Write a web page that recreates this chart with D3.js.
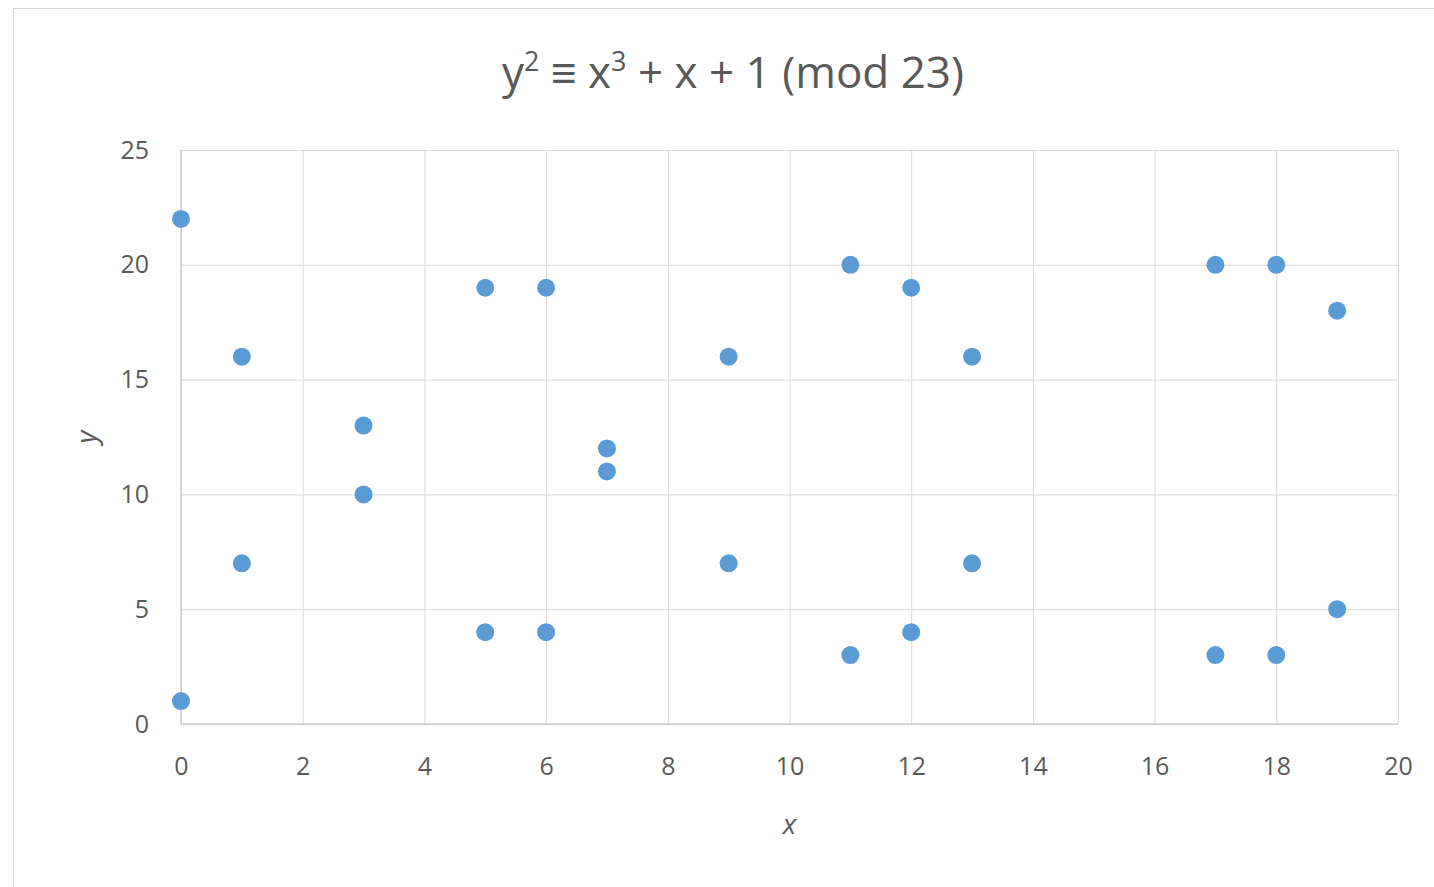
<!DOCTYPE html>
<html>
<head>
<meta charset="utf-8">
<script src="https://cdn.jsdelivr.net/npm/d3@7"></script>
<style>
  body { margin: 0; background: #fff; }
  text { font-family: "Open Sans", "Noto Sans", sans-serif; fill: #595959; }
</style>
</head>
<body>
<div id="chart"></div>
<script>
// points on the curve y^2 = x^3 + x + 1 mod 23
const xValues = [0, 0, 1, 1, 3, 3, 5, 5, 6, 6, 7, 7, 9, 9, 11, 11, 12, 12, 13, 13, 17, 17, 18, 18, 19, 19];
const yValues = [1, 22, 7, 16, 10, 13, 4, 19, 4, 19, 11, 12, 7, 16, 3, 20, 4, 19, 7, 16, 3, 20, 3, 20, 5, 18];
const xTicks = [0, 2, 4, 6, 8, 10, 12, 14, 16, 18, 20];
const yTicks = [0, 5, 10, 15, 20, 25];

const width = 1434, height = 887;
const margin = { top: 150, right: 36, bottom: 163, left: 181 };
const w = width - margin.left - margin.right;
const h = height - margin.top - margin.bottom;

const svg = d3.select("#chart").append("svg")
    .attr("width", width)
    .attr("height", height);

// chart frame
svg.append("rect")
    .attr("x", 13.5).attr("y", 8.5)
    .attr("width", width).attr("height", height)
    .attr("fill", "none")
    .attr("stroke", "#d9d9d9");

const g = svg.append("g")
    .attr("transform", `translate(${margin.left},${margin.top})`);

const x = d3.scaleLinear().domain([0, 20]).range([0, w]);
const y = d3.scaleLinear().domain([0, 25]).range([h, 0]);

// grid
g.append("g")
    .attr("transform", `translate(0,${h})`)
    .call(d3.axisBottom(x).tickValues(xTicks).tickSize(-h).tickFormat(""))
    .call(a => a.select(".domain").remove())
    .call(a => a.selectAll("line").attr("stroke", "#d9d9d9"));

g.append("g")
    .call(d3.axisLeft(y).tickValues(yTicks).tickSize(-w).tickFormat(""))
    .call(a => a.select(".domain").remove())
    .call(a => a.selectAll("line").attr("stroke", "#d9d9d9"));

// axis lines
g.append("line")
    .attr("x1", 0).attr("x2", w)
    .attr("y1", h).attr("y2", h)
    .attr("stroke", "#bfbfbf");
g.append("line")
    .attr("x1", 0).attr("x2", 0)
    .attr("y1", 0).attr("y2", h)
    .attr("stroke", "#bfbfbf");

// tick labels
const xAxis = g.append("g")
    .attr("transform", `translate(0,${h})`)
    .call(d3.axisBottom(x).tickValues(xTicks).tickSize(0).tickPadding(33));
xAxis.select(".domain").remove();
xAxis.selectAll("text").attr("font-size", 25).attr("fill", "#595959")
    .attr("font-family", "'Open Sans', 'Noto Sans', sans-serif");

const yAxis = g.append("g")
    .call(d3.axisLeft(y).tickValues(yTicks).tickSize(0).tickPadding(32));
yAxis.select(".domain").remove();
yAxis.selectAll("text").attr("font-size", 25).attr("fill", "#595959")
    .attr("font-family", "'Open Sans', 'Noto Sans', sans-serif");

// points
g.selectAll("circle")
    .data(xValues.map((d, i) => ({ x: d, y: yValues[i] })))
    .join("circle")
    .attr("cx", d => x(d.x))
    .attr("cy", d => y(d.y))
    .attr("r", 9)
    .attr("fill", "#5b9bd5");

// title
const title = svg.append("text")
    .attr("x", 733).attr("y", 88)
    .attr("text-anchor", "middle")
    .attr("font-size", 44);
title.append("tspan").text("y");
title.append("tspan").attr("dy", -17).attr("font-size", 27).text("2");
title.append("tspan").attr("dy", 17).text(" ≡ x");
title.append("tspan").attr("dy", -17).attr("font-size", 27).text("3");
title.append("tspan").attr("dy", 17).text(" + x + 1 (mod 23)");

// axis titles
svg.append("text")
    .attr("x", margin.left + w / 2).attr("y", 834)
    .attr("text-anchor", "middle")
    .attr("font-size", 28)
    .attr("font-style", "italic")
    .text("x");

svg.append("text")
    .attr("transform", `translate(96,${margin.top + h / 2}) rotate(-90)`)
    .attr("text-anchor", "middle")
    .attr("font-size", 28)
    .attr("font-style", "italic")
    .text("y");
</script>
</body>
</html>
